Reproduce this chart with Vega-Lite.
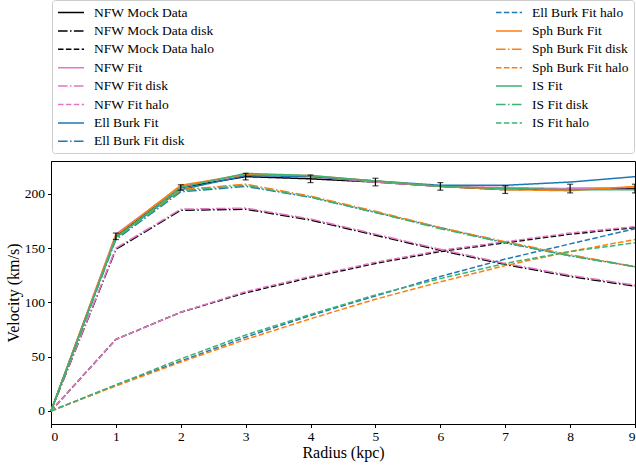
{
 "$schema": "https://vega.github.io/schema/vega-lite/v6.json",
 "width": 584, "height": 263,
 "autosize": "none",
 "padding": {"left": 51, "top": 161, "right": 1, "bottom": 42},
 "config": {
  "font": "Liberation Serif, Times New Roman, DejaVu Serif, serif",
  "style": {"guide-label": {"font": "Liberation Serif, DejaVu Serif, serif"}, "guide-title": {"font": "Liberation Serif, DejaVu Serif, serif"}},
  "view": {"stroke": "black", "strokeWidth": 1},
  "axis": {"grid": false, "domainColor": "black", "tickColor": "black", "labelColor": "black", "titleColor": "black", "labelFont": "Liberation Serif, DejaVu Serif, serif", "titleFont": "Liberation Serif, DejaVu Serif, serif", "labelFontSize": 13.5, "titleFontSize": 16, "titleFontWeight": "normal", "tickSize": 3.5},
  "axisX": {"labelPadding": 2, "titlePadding": 1},
  "axisY": {"labelPadding": 3, "titlePadding": 3},
  "legend": {"orient": "none", "legendX": 1, "legendY": -161, "columns": 2, "columnPadding": 278, "rowPadding": 4.4, "padding": 5, "strokeColor": "#cccccc", "fillColor": "white", "cornerRadius": 3, "symbolType": "M-1,0H3", "symbolSize": 169, "symbolStrokeWidth": 1.5, "symbolFillColor": "transparent", "labelFont": "Liberation Serif, DejaVu Serif, serif", "labelFontSize": 13.5, "labelOffset": 22, "labelColor": "black", "labelLimit": 300}
 },
 "datasets": {
  "curves": [
   {"s":"NFW Mock Data","r":0,"v":0},{"s":"NFW Mock Data","r":1,"v":161},{"s":"NFW Mock Data","r":2,"v":206},{"s":"NFW Mock Data","r":3,"v":216},{"s":"NFW Mock Data","r":4,"v":214},{"s":"NFW Mock Data","r":5,"v":211},{"s":"NFW Mock Data","r":6,"v":207},{"s":"NFW Mock Data","r":7,"v":204},{"s":"NFW Mock Data","r":8,"v":205},{"s":"NFW Mock Data","r":9,"v":205},
   {"s":"NFW Mock Data disk","r":0,"v":0},{"s":"NFW Mock Data disk","r":1,"v":149},{"s":"NFW Mock Data disk","r":2,"v":185},{"s":"NFW Mock Data disk","r":3,"v":186},{"s":"NFW Mock Data disk","r":4,"v":176},{"s":"NFW Mock Data disk","r":5,"v":162},{"s":"NFW Mock Data disk","r":6,"v":148},{"s":"NFW Mock Data disk","r":7,"v":135},{"s":"NFW Mock Data disk","r":8,"v":124},{"s":"NFW Mock Data disk","r":9,"v":115},
   {"s":"NFW Mock Data halo","r":0,"v":0},{"s":"NFW Mock Data halo","r":1,"v":66},{"s":"NFW Mock Data halo","r":2,"v":91},{"s":"NFW Mock Data halo","r":3,"v":109},{"s":"NFW Mock Data halo","r":4,"v":123},{"s":"NFW Mock Data halo","r":5,"v":136},{"s":"NFW Mock Data halo","r":6,"v":147},{"s":"NFW Mock Data halo","r":7,"v":155},{"s":"NFW Mock Data halo","r":8,"v":163},{"s":"NFW Mock Data halo","r":9,"v":169},
   {"s":"NFW Fit","r":0,"v":0},{"s":"NFW Fit","r":1,"v":163},{"s":"NFW Fit","r":2,"v":207},{"s":"NFW Fit","r":3,"v":218},{"s":"NFW Fit","r":4,"v":216},{"s":"NFW Fit","r":5,"v":211},{"s":"NFW Fit","r":6,"v":207},{"s":"NFW Fit","r":7,"v":206},{"s":"NFW Fit","r":8,"v":205},{"s":"NFW Fit","r":9,"v":206},
   {"s":"NFW Fit disk","r":0,"v":0},{"s":"NFW Fit disk","r":1,"v":150},{"s":"NFW Fit disk","r":2,"v":186},{"s":"NFW Fit disk","r":3,"v":187},{"s":"NFW Fit disk","r":4,"v":177},{"s":"NFW Fit disk","r":5,"v":163},{"s":"NFW Fit disk","r":6,"v":149},{"s":"NFW Fit disk","r":7,"v":136},{"s":"NFW Fit disk","r":8,"v":125},{"s":"NFW Fit disk","r":9,"v":116},
   {"s":"NFW Fit halo","r":0,"v":0},{"s":"NFW Fit halo","r":1,"v":66},{"s":"NFW Fit halo","r":2,"v":91},{"s":"NFW Fit halo","r":3,"v":110},{"s":"NFW Fit halo","r":4,"v":124},{"s":"NFW Fit halo","r":5,"v":137},{"s":"NFW Fit halo","r":6,"v":148},{"s":"NFW Fit halo","r":7,"v":156},{"s":"NFW Fit halo","r":8,"v":164},{"s":"NFW Fit halo","r":9,"v":170},
   {"s":"Ell Burk Fit","r":0,"v":0},{"s":"Ell Burk Fit","r":1,"v":160},{"s":"Ell Burk Fit","r":2,"v":204},{"s":"Ell Burk Fit","r":3,"v":217},{"s":"Ell Burk Fit","r":4,"v":216},{"s":"Ell Burk Fit","r":5,"v":212},{"s":"Ell Burk Fit","r":6,"v":208},{"s":"Ell Burk Fit","r":7,"v":208},{"s":"Ell Burk Fit","r":8,"v":211},{"s":"Ell Burk Fit","r":9,"v":216},
   {"s":"Ell Burk Fit disk","r":0,"v":0},{"s":"Ell Burk Fit disk","r":1,"v":158},{"s":"Ell Burk Fit disk","r":2,"v":202},{"s":"Ell Burk Fit disk","r":3,"v":207},{"s":"Ell Burk Fit disk","r":4,"v":197},{"s":"Ell Burk Fit disk","r":5,"v":183},{"s":"Ell Burk Fit disk","r":6,"v":169},{"s":"Ell Burk Fit disk","r":7,"v":155},{"s":"Ell Burk Fit disk","r":8,"v":143},{"s":"Ell Burk Fit disk","r":9,"v":133},
   {"s":"Ell Burk Fit halo","r":0,"v":0},{"s":"Ell Burk Fit halo","r":1,"v":24},{"s":"Ell Burk Fit halo","r":2,"v":46},{"s":"Ell Burk Fit halo","r":3,"v":68},{"s":"Ell Burk Fit halo","r":4,"v":88},{"s":"Ell Burk Fit halo","r":5,"v":106},{"s":"Ell Burk Fit halo","r":6,"v":124},{"s":"Ell Burk Fit halo","r":7,"v":140},{"s":"Ell Burk Fit halo","r":8,"v":154},{"s":"Ell Burk Fit halo","r":9,"v":168},
   {"s":"Sph Burk Fit","r":0,"v":0},{"s":"Sph Burk Fit","r":1,"v":162},{"s":"Sph Burk Fit","r":2,"v":208},{"s":"Sph Burk Fit","r":3,"v":218},{"s":"Sph Burk Fit","r":4,"v":217},{"s":"Sph Burk Fit","r":5,"v":212},{"s":"Sph Burk Fit","r":6,"v":207},{"s":"Sph Burk Fit","r":7,"v":204},{"s":"Sph Burk Fit","r":8,"v":203},{"s":"Sph Burk Fit","r":9,"v":207},
   {"s":"Sph Burk Fit disk","r":0,"v":0},{"s":"Sph Burk Fit disk","r":1,"v":160},{"s":"Sph Burk Fit disk","r":2,"v":204},{"s":"Sph Burk Fit disk","r":3,"v":209},{"s":"Sph Burk Fit disk","r":4,"v":198},{"s":"Sph Burk Fit disk","r":5,"v":184},{"s":"Sph Burk Fit disk","r":6,"v":169},{"s":"Sph Burk Fit disk","r":7,"v":156},{"s":"Sph Burk Fit disk","r":8,"v":144},{"s":"Sph Burk Fit disk","r":9,"v":133},
   {"s":"Sph Burk Fit halo","r":0,"v":0},{"s":"Sph Burk Fit halo","r":1,"v":23},{"s":"Sph Burk Fit halo","r":2,"v":45},{"s":"Sph Burk Fit halo","r":3,"v":66},{"s":"Sph Burk Fit halo","r":4,"v":85},{"s":"Sph Burk Fit halo","r":5,"v":103},{"s":"Sph Burk Fit halo","r":6,"v":119},{"s":"Sph Burk Fit halo","r":7,"v":134},{"s":"Sph Burk Fit halo","r":8,"v":147},{"s":"Sph Burk Fit halo","r":9,"v":158},
   {"s":"IS Fit","r":0,"v":0},{"s":"IS Fit","r":1,"v":160},{"s":"IS Fit","r":2,"v":206},{"s":"IS Fit","r":3,"v":219},{"s":"IS Fit","r":4,"v":217},{"s":"IS Fit","r":5,"v":212},{"s":"IS Fit","r":6,"v":207},{"s":"IS Fit","r":7,"v":205},{"s":"IS Fit","r":8,"v":204},{"s":"IS Fit","r":9,"v":204},
   {"s":"IS Fit disk","r":0,"v":0},{"s":"IS Fit disk","r":1,"v":159},{"s":"IS Fit disk","r":2,"v":203},{"s":"IS Fit disk","r":3,"v":208},{"s":"IS Fit disk","r":4,"v":197},{"s":"IS Fit disk","r":5,"v":183},{"s":"IS Fit disk","r":6,"v":168},{"s":"IS Fit disk","r":7,"v":155},{"s":"IS Fit disk","r":8,"v":143},{"s":"IS Fit disk","r":9,"v":133},
   {"s":"IS Fit halo","r":0,"v":0},{"s":"IS Fit halo","r":1,"v":24},{"s":"IS Fit halo","r":2,"v":48},{"s":"IS Fit halo","r":3,"v":70},{"s":"IS Fit halo","r":4,"v":89},{"s":"IS Fit halo","r":5,"v":107},{"s":"IS Fit halo","r":6,"v":122},{"s":"IS Fit halo","r":7,"v":136},{"s":"IS Fit halo","r":8,"v":147},{"s":"IS Fit halo","r":9,"v":155}
  ],
  "mock": [
   {"r":1,"v":161,"err":3},{"r":2,"v":206,"err":2.5},{"r":3,"v":216,"err":3},{"r":4,"v":214,"err":3.5},{"r":5,"v":211,"err":3.5},{"r":6,"v":207,"err":3.5},{"r":7,"v":204,"err":3.5},{"r":8,"v":205,"err":4},{"r":9,"v":205,"err":4}
  ]
 },
 "layer": [
  {
   "data": {"name": "curves"},
   "mark": {"type": "line", "strokeWidth": 1.5},
   "encoding": {
    "x": {"field": "r", "type": "quantitative", "scale": {"domain": [0, 9], "nice": false, "zero": false}, "axis": {"title": "Radius (kpc)", "values": [0,1,2,3,4,5,6,7,8,9], "format": "d", "labelFont": "Liberation Serif", "titleFont": "Liberation Serif"}},
    "y": {"field": "v", "type": "quantitative", "scale": {"domain": [-12, 230.4], "nice": false, "zero": false}, "axis": {"title": "Velocity (km/s)", "values": [0,50,100,150,200], "format": "d", "labelFont": "Liberation Serif", "titleFont": "Liberation Serif"}},
    "color": {"field": "s", "type": "nominal", "legend": {"title": null},
     "scale": {"domain": ["NFW Mock Data","NFW Mock Data disk","NFW Mock Data halo","NFW Fit","NFW Fit disk","NFW Fit halo","Ell Burk Fit","Ell Burk Fit disk","Ell Burk Fit halo","Sph Burk Fit","Sph Burk Fit disk","Sph Burk Fit halo","IS Fit","IS Fit disk","IS Fit halo"],
      "range": ["#000000","#000000","#000000","#e377c2","#e377c2","#e377c2","#1f77b4","#1f77b4","#1f77b4","#ff7f0e","#ff7f0e","#ff7f0e","#3cb371","#3cb371","#3cb371"]}},
    "strokeDash": {"field": "s", "type": "nominal", "legend": {"title": null},
     "scale": {"domain": ["NFW Mock Data","NFW Mock Data disk","NFW Mock Data halo","NFW Fit","NFW Fit disk","NFW Fit halo","Ell Burk Fit","Ell Burk Fit disk","Ell Burk Fit halo","Sph Burk Fit","Sph Burk Fit disk","Sph Burk Fit halo","IS Fit","IS Fit disk","IS Fit halo"],
      "range": [[1,0],[9.6,2.4,1.5,2.4],[5.5,2.4],[1,0],[9.6,2.4,1.5,2.4],[5.5,2.4],[1,0],[9.6,2.4,1.5,2.4],[5.5,2.4],[1,0],[9.6,2.4,1.5,2.4],[5.5,2.4],[1,0],[9.6,2.4,1.5,2.4],[5.5,2.4]]}}
   }
  },
  {
   "data": {"name": "mock"},
   "mark": {"type": "errorbar", "ticks": {"size": 6, "color": "black"}, "rule": {"color": "black"}, "thickness": 1.2},
   "encoding": {
    "x": {"field": "r", "type": "quantitative", "title": "Radius (kpc)"},
    "y": {"field": "v", "type": "quantitative", "title": "Velocity (km/s)"},
    "yError": {"field": "err"}
   }
  }
 ]
}
